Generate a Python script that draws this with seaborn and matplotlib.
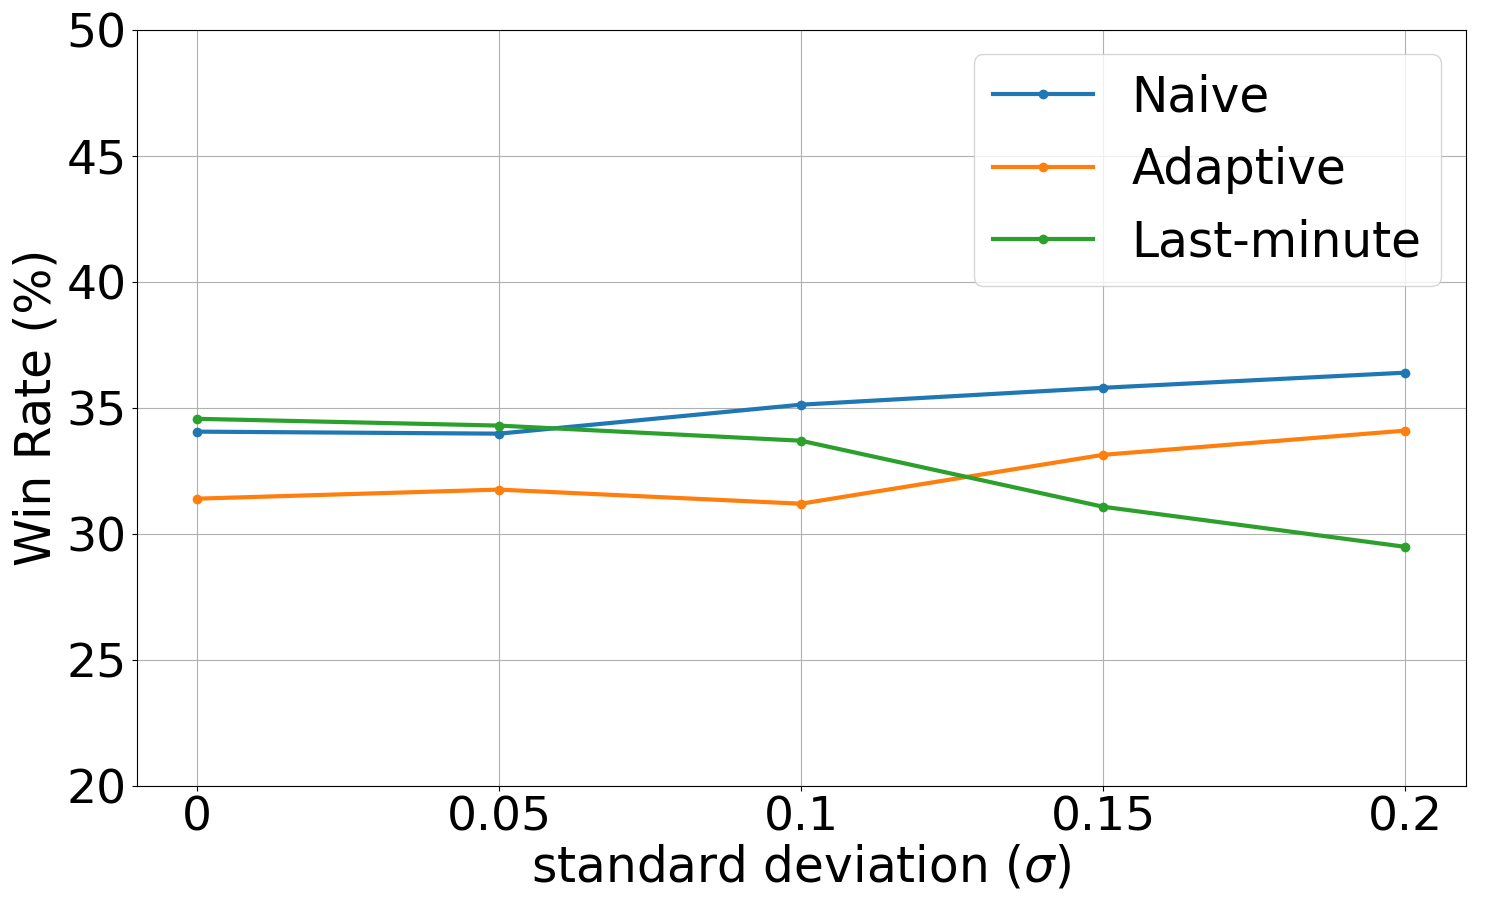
import matplotlib
matplotlib.use("Agg")
import matplotlib.pyplot as plt
import seaborn as sns
import pandas as pd

# values
sigma = [0, 0.05, 0.1, 0.15, 0.2]
sigma_labels = ["0", "0.05", "0.1", "0.15", "0.2"]
naive = [34.05, 33.97, 35.12, 35.79, 36.39]
adaptive = [31.39, 31.75, 31.19, 33.13, 34.09]
last_minute = [34.56, 34.29, 33.69, 31.07, 29.48]

df = pd.DataFrame({
    "sigma": sigma * 3,
    "win": naive + adaptive + last_minute,
    "method": ["Naive"] * 5 + ["Adaptive"] * 5 + ["Last-minute"] * 5,
})

fs = 34
fig, ax = plt.subplots(figsize=(15, 9), dpi=100)
sns.lineplot(data=df, x="sigma", y="win", hue="method",
             palette=["#1f77b4", "#ff7f0e", "#2ca02c"],
             marker="o", markersize=7, markeredgewidth=0,
             linewidth=3, ax=ax)

ax.set_ylim(20, 50)
ax.set_xticks(sigma)
ax.set_xticklabels(sigma_labels)
ax.tick_params(labelsize=fs)
ax.set_xlabel(r"standard deviation ($\sigma$)", fontsize=35, labelpad=2)
ax.set_ylabel("Win Rate (%)", fontsize=35)
ax.grid(True, color="#b0b0b0", linewidth=0.8)
ax.legend(loc="upper right", fontsize=35, title=None,
          labelspacing=0.5, handlelength=2.05)

plt.subplots_adjust(left=0.091, right=0.977, top=0.967, bottom=0.127)
fig.savefig("out.png")
